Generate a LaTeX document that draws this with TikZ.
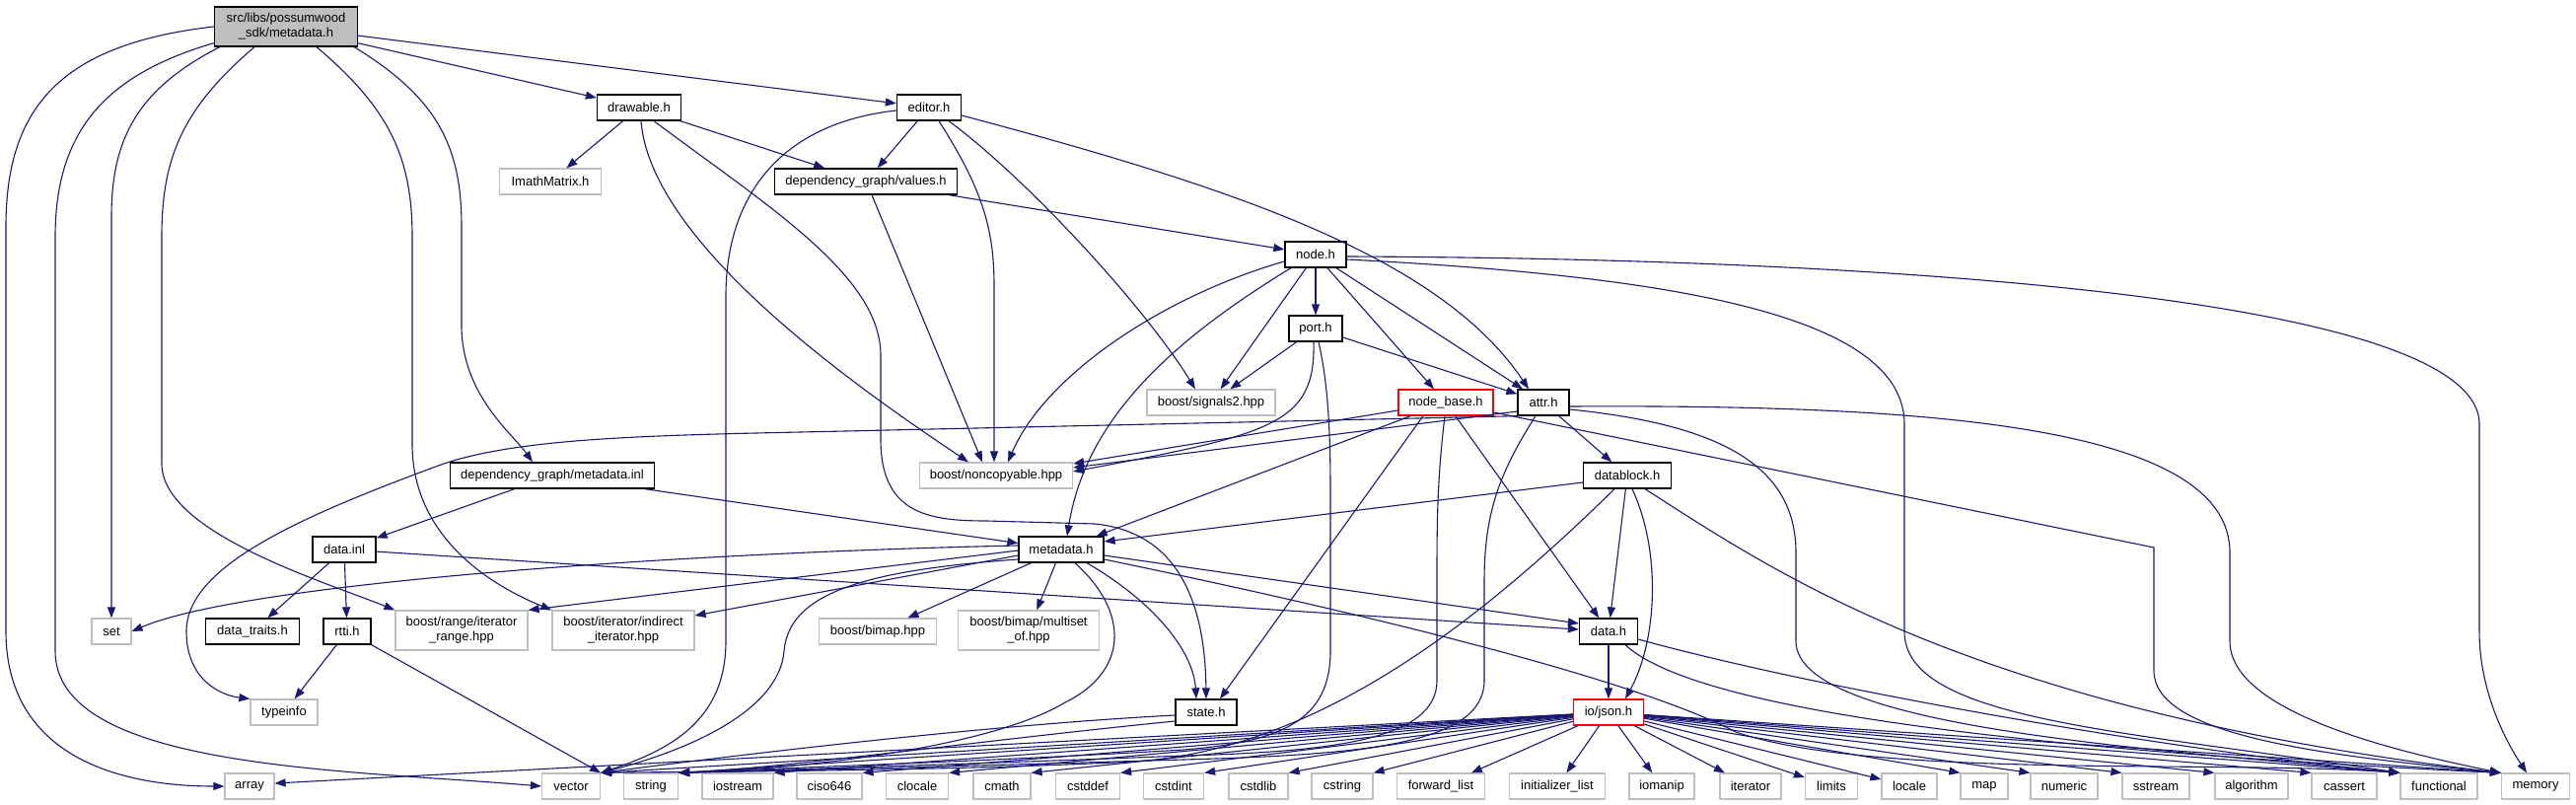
\documentclass[tikz,border=0pt]{standalone}
\usepackage{fontspec}
\setmainfont{Liberation Sans}
\usetikzlibrary{arrows.meta,calc}
\definecolor{edgec}{RGB}{25,25,112}
\definecolor{gborder}{RGB}{191,191,191}
\definecolor{mfill}{RGB}{191,191,191}
\begin{document}
\begin{tikzpicture}[x=1pt,y=-1pt,
  box/.style={rectangle, inner sep=1pt, minimum height=26pt, font=\fontsize{13}{15}\selectfont, align=center},
  gb/.style={box, draw=gborder, line width=1.2pt},
  bb/.style={box, draw=black, line width=1.3pt},
  rb/.style={box, draw=red, line width=1.3pt},
  e/.style={draw=edgec, line width=1.1pt, -{Triangle[length=11pt,width=8pt]}},
]
\useasboundingbox (0,0) rectangle (2612,816);
\fill[white] (0,0) rectangle (2612,816);

% ---------- nodes ----------
\node[bb, fill=mfill, minimum width=145pt, minimum height=40pt] (M) at (290,27) {src/libs/possumwood\\\_sdk/metadata.h};
\node[bb, minimum width=85pt] (drawable) at (648,109) {drawable.h};
\node[bb, minimum width=65pt] (editor) at (942,109) {editor.h};
\node[gb, minimum width=103pt] (imath) at (558,184) {ImathMatrix.h};
\node[bb, minimum width=185pt] (values) at (878,184) {dependency\_graph/values.h};
\node[bb, minimum width=62pt] (nodeh) at (1334,258) {node.h};
\node[bb, minimum width=54pt] (port) at (1334,333) {port.h};
\node[gb, minimum width=130pt] (signals) at (1228,408) {boost/signals2.hpp};
\node[rb, minimum width=96pt] (nodebase) at (1466,408) {node\_base.h};
\node[bb, minimum width=52pt] (attr) at (1565,408) {attr.h};
\node[gb, minimum width=155pt] (noncopy) at (1010,482) {boost/noncopyable.hpp};
\node[bb, minimum width=207pt] (metainl) at (560,482) {dependency\_graph/metadata.inl};
\node[bb, minimum width=89pt] (datablock) at (1650,482) {datablock.h};
\node[bb, minimum width=64pt] (datainl) at (349,557) {data.inl};
\node[bb, minimum width=86pt] (metadata) at (1076,557) {metadata.h};
\node[gb, minimum width=40pt] (set) at (113,640) {set};
\node[bb, minimum width=95pt] (traits) at (256,640) {data\_traits.h};
\node[bb, minimum width=48pt] (rtti) at (352,640) {rtti.h};
\node[gb, minimum width=134pt, minimum height=40pt] (irange) at (468,639) {boost/range/iterator\\\_range.hpp};
\node[gb, minimum width=144pt, minimum height=40pt] (indirect) at (632,639) {boost/iterator/indirect\\\_iterator.hpp};
\node[gb, minimum width=119pt] (bimap) at (890,640) {boost/bimap.hpp};
\node[gb, minimum width=143pt, minimum height=40pt] (multiset) at (1043,639) {boost/bimap/multiset\\\_of.hpp};
\node[bb, minimum width=59pt] (data) at (1631,640) {data.h};
\node[gb, minimum width=68pt] (typeinfo) at (288,722) {typeinfo};
\node[bb, minimum width=62pt] (state) at (1223,722) {state.h};
\node[rb, minimum width=71pt] (json) at (1631,722) {io/json.h};

\node[gb, minimum width=50pt] (array) at (253,797) {array};
\node[gb, minimum width=59pt] (vector) at (579,797) {vector};
\node[gb, minimum width=55pt] (string) at (660,797) {string};
\node[gb, minimum width=72pt] (iostream) at (748,797) {iostream};
\node[gb, minimum width=66pt] (ciso) at (841,797) {ciso646};
\node[gb, minimum width=63pt] (clocale) at (930,797) {clocale};
\node[gb, minimum width=58pt] (cmath) at (1016,797) {cmath};
\node[gb, minimum width=65pt] (cstddef) at (1103,797) {cstddef};
\node[gb, minimum width=61pt] (cstdint) at (1190,797) {cstdint};
\node[gb, minimum width=60pt] (cstdlib) at (1276,797) {cstdlib};
\node[gb, minimum width=62pt] (cstring) at (1361,797) {cstring};
\node[gb, minimum width=89pt] (fwdlist) at (1461,797) {forward\_list};
\node[gb, minimum width=97pt] (initlist) at (1579,797) {initializer\_list};
\node[gb, minimum width=66pt] (iomanip) at (1685,797) {iomanip};
\node[gb, minimum width=62pt] (iterator) at (1775,797) {iterator};
\node[gb, minimum width=53pt] (limits) at (1857,797) {limits};
\node[gb, minimum width=56pt] (locale) at (1936,797) {locale};
\node[gb, minimum width=48pt] (map) at (2012,797) {map};
\node[gb, minimum width=68pt] (numeric) at (2093,797) {numeric};
\node[gb, minimum width=68pt] (sstream) at (2186,797) {sstream};
\node[gb, minimum width=74pt] (algorithm) at (2283,797) {algorithm};
\node[gb, minimum width=66pt] (cassert) at (2377,797) {cassert};
\node[gb, minimum width=78pt] (functional) at (2473,797) {functional};
\node[gb, minimum width=69pt] (memory) at (2571,797) {memory};

% ---------- edges ----------
% main file
\draw[e] (M.west) .. controls (60,45) and (6,110) .. (6,230) -- (6,640) .. controls (6,760) and (110,797) .. (array.west);
\draw[e] ($(M.south west)+(0,-4)$) .. controls (110,75) and (56,130) .. (56,240) -- (56,660) .. controls (56,780) and (350,780) .. (vector.west);
\draw[e] ($(M.south west)+(6,0)$) .. controls (140,90) and (113,140) .. (113,220) -- (set.north);
\draw[e] ($(M.south)+(-32,0)$) .. controls (185,110) and (164,160) .. (164,240) -- (164,470) .. controls (164,540) and (330,590) .. (irange.north west);
\draw[e] ($(M.south)+(31,0)$) .. controls (395,110) and (418,160) .. (418,240) -- (418,450) .. controls (418,540) and (490,590) .. (indirect.north west);
\draw[e] ($(M.south east)+(-4,0)$) .. controls (445,100) and (468,150) .. (468,230) -- (468,330) .. controls (468,400) and (520,440) .. ($(metainl.north)+(-20,0)$);
\draw[e] (M) -- (drawable);
\draw[e] (M) -- (editor);

% drawable.h
\draw[e] (drawable) -- (imath);
\draw[e] (drawable) -- (values);
\draw[e] ($(drawable.south)+(2,0)$) .. controls (660,250) and (880,400) .. ($(noncopy.north)+(-28,0)$);
\draw[e] ($(drawable.south)+(15,0)$) .. controls (780,210) and (893,280) .. (893,360) -- (893,445) .. controls (893,520) and (940,528) .. (1000,528) -- (1110,531) .. controls (1200,540) and (1222,620) .. (state.north);

% editor.h
\draw[e] (editor) -- (values);
\draw[e] ($(editor.west)+(0,3)$) .. controls (790,125) and (736,200) .. (736,300) -- (736,650) .. controls (736,730) and (680,760) .. (vector.north east);
\draw[e] ($(editor.south)+(10,0)$) .. controls (995,190) and (1008,230) .. (1008,290) -- ($(noncopy.north)+(-2,0)$);
\draw[e] ($(editor.south)+(20,0)$) .. controls (1040,180) and (1160,310) .. ($(signals.north)+(-16,0)$);
\draw[e] ($(editor.east)+(0,8)$) .. controls (1250,190) and (1460,260) .. ($(attr.north)+(-15,0)$);

% values.h
\draw[e] (values) -- (nodeh);
\draw[e] ($(values.south)+(6,0)$) -- ($(noncopy.north)+(-14,0)$);

% metadata.inl
\draw[e] (metainl) -- (datainl);
\draw[e] (metainl) -- (metadata);

% node.h
\draw[e] (nodeh) -- (port);
\draw[e] (nodeh) -- (signals);
\draw[e] (nodeh) -- (nodebase);
\draw[e] (nodeh) -- (attr);
\draw[e] ($(nodeh.west)+(0,7)$) .. controls (1180,300) and (1060,380) .. ($(noncopy.north)+(12,0)$);
\draw[e] ($(nodeh.south)+(-25,0)$) .. controls (1180,350) and (1100,430) .. ($(metadata.north)+(6,0)$);
\draw[e] ($(nodeh.east)+(0,2)$) .. controls (1900,262) and (2514,300) .. (2514,430) -- (2514,640) .. controls (2514,700) and (2540,750) .. ($(memory.north)+(-9,0)$);
\draw[e] ($(nodeh.east)+(0,5)$) .. controls (1700,280) and (1931,320) .. (1931,430) -- (1931,640) .. controls (1931,730) and (2150,740) .. (functional.north west);

% port.h
\draw[e] (port) -- (signals);
\draw[e] (port) -- (attr);
\draw[e] ($(port.south)+(-2,0)$) .. controls (1334,430) and (1290,440) .. ($(noncopy.east)+(0,-4)$);
\draw[e] ($(port.south)+(3,0)$) .. controls (1347,390) and (1349,440) .. (1349,500) -- (1349,660) .. controls (1349,730) and (1300,752) .. (1200,760) .. controls (1000,772) and (800,778) .. (string.north east);

% node_base.h
\draw[e] ($(nodebase.west)+(0,8)$) -- ($(noncopy.east)+(0,-12)$);
\draw[e] (nodebase) -- (metadata);
\draw[e] ($(nodebase.south)+(-23,0)$) -- ($(state.north)+(14,0)$);
\draw[e] ($(nodebase.south)+(-1,0)$) .. controls (1458,480) and (1457,520) .. (1457,580) -- (1457,690) .. controls (1457,750) and (1350,762) .. (1200,766) .. controls (1000,774) and (800,780) .. (string.north east);
\draw[e] (nodebase) -- (data);
\draw[e] ($(nodebase.east)+(0,10)$) -- (2184,555) -- (2184,680) .. controls (2184,745) and (2350,765) .. (memory.north west);

% attr.h
\draw[e] (attr) -- (datablock);
\draw[e] ($(attr.west)+(0,9)$) -- ($(noncopy.east)+(0,-8)$);
\draw[e] ($(attr.south west)+(3,0)$) -- (900,436) .. controls (700,441) and (540,440) .. (450,470) .. controls (300,525) and (189,575) .. (189,640) .. controls (189,690) and (225,705) .. (typeinfo.north west);
\draw[e] ($(attr.south)+(-8,0)$) .. controls (1520,480) and (1505,520) .. (1505,590) -- (1505,690) .. controls (1505,755) and (1380,765) .. (1200,770) .. controls (1000,776) and (800,781) .. (string.north east);
\draw[e] ($(attr.east)+(0,4)$) .. controls (1950,410) and (2261,430) .. (2261,560) -- (2261,650) .. controls (2261,720) and (2420,760) .. (memory.north west);
\draw[e] ($(attr.east)+(0,7)$) .. controls (1740,430) and (1821,470) .. (1821,560) -- (1821,650) .. controls (1821,740) and (2200,760) .. (functional.north west);

% datablock.h
\draw[e] ($(datablock.west)+(0,7)$) -- ($(metadata.east)+(0,-8)$);
\draw[e] ($(datablock.south)+(-13,0)$) .. controls (1490,640) and (1330,760) .. (1150,772) .. controls (950,782) and (700,782) .. (vector.north east);
\draw[e] (datablock) -- (data);
\draw[e] ($(datablock.south)+(5,0)$) .. controls (1685,560) and (1680,650) .. ($(json.north)+(17,0)$);
\draw[e] ($(datablock.south)+(18,0)$) .. controls (1800,580) and (2000,720) .. (memory.north west);

% data.inl
\draw[e] (datainl) -- (traits);
\draw[e] (datainl) -- (rtti);
\draw[e] (datainl) -- (data);

% rtti.h
\draw[e] (rtti) -- (typeinfo);
\draw[e] (rtti.south east) -- (vector.north east);

% metadata.h
\draw[e] ($(metadata.west)+(0,-4)$) .. controls (700,560) and (250,590) .. (set.east);
\draw[e] ($(metadata.west)+(0,1)$) -- (irange.north east);
\draw[e] ($(metadata.west)+(0,6)$) -- ($(indirect.east)+(0,-15)$);
\draw[e] ($(metadata.west)+(0,10)$) .. controls (880,578) and (800,600) .. (795,660) .. controls (790,720) and (700,760) .. (vector.north east);
\draw[e] (metadata) -- (bimap);
\draw[e] (metadata) -- (multiset);
\draw[e] ($(metadata.south)+(26,0)$) .. controls (1170,610) and (1210,660) .. ($(state.north)+(-10,0)$);
\draw[e] ($(metadata.south)+(14,0)$) .. controls (1145,620) and (1145,680) .. (1080,712) .. controls (1000,760) and (800,780) .. (string.north east);
\draw[e] ($(metadata.east)+(0,6)$) -- ($(data.west)+(0,-8)$);
\draw[e] ($(metadata.east)+(0,10)$) .. controls (1400,625) and (1660,690) .. (1760,742) .. controls (1900,790) and (2250,770) .. (functional.north west);

% data.h
\draw[e] (data) -- (json);
\draw[e] ($(data.east)+(0,8)$) .. controls (1850,700) and (2200,760) .. (functional.north west);
\draw[e] ($(data.south)+(17,0)$) .. controls (1730,730) and (2150,765) .. (memory.north west);

% state.h
\draw[e] ($(state.west)+(0,3)$) .. controls (1000,735) and (750,765) .. (vector.north east);
\draw[e] ($(state.west)+(0,9)$) .. controls (1000,750) and (800,778) .. (string.north east);

% io/json.h
\draw[e] (json) -- ($(array.east)+(0,-3)$);
\draw[e] (json) -- (vector.north east);
\draw[e] (json) -- (string.north east);
\draw[e] (json) -- (iostream.north east);
\draw[e] (json) -- (ciso.north east);
\draw[e] (json) -- (clocale.north east);
\draw[e] (json) -- (cmath.north east);
\draw[e] (json) -- (cstddef.north east);
\draw[e] (json) -- (cstdint.north east);
\draw[e] (json) -- (cstdlib.north east);
\draw[e] (json) -- (cstring.north east);
\draw[e] (json) -- (fwdlist);
\draw[e] (json) -- (initlist);
\draw[e] (json) -- (iomanip);
\draw[e] (json) -- (iterator);
\draw[e] (json) -- (limits);
\draw[e] (json) -- (locale);
\draw[e] (json) -- (map.north west);
\draw[e] (json) -- (numeric.north west);
\draw[e] (json) -- (sstream.north west);
\draw[e] (json) -- (algorithm.north west);
\draw[e] (json) -- (cassert.north west);
\draw[e] (json) -- (functional.north west);
\draw[e] (json) -- (memory.north west);
\end{tikzpicture}
\end{document}
